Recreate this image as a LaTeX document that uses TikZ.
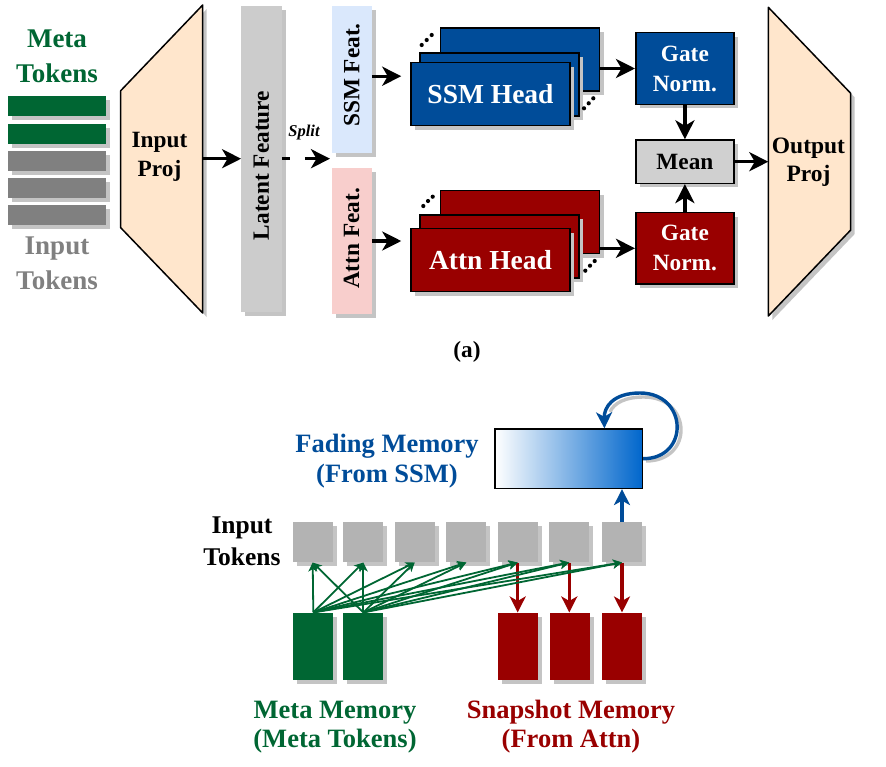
\documentclass[tikz,border=0pt]{standalone}
\usepackage{fontspec}
\setmainfont{Liberation Serif}
\usetikzlibrary{arrows.meta,shadows,calc}
\definecolor{peach}{HTML}{FFE6CC}
\definecolor{dblue}{HTML}{004C99}
\definecolor{dred}{HTML}{990000}
\definecolor{dgreen}{HTML}{006633}
\definecolor{barg}{HTML}{808080}
\definecolor{latg}{HTML}{CCCCCC}
\definecolor{ssmf}{HTML}{DAE8FC}
\definecolor{attf}{HTML}{F8CECC}
\definecolor{meang}{HTML}{D0D0D0}
\definecolor{tokg}{HTML}{B3B3B3}
\definecolor{shadc}{HTML}{C4C4C4}
\definecolor{fadeb}{HTML}{0066CC}
\begin{document}
\begin{tikzpicture}[x=1pt,y=-1pt,
  shd/.style={drop shadow={shadow xshift=4pt,shadow yshift=-4pt,fill=shadc,opacity=1}},
  blk/.style={rectangle,inner sep=0,shd},
  lbl/.style={font=\fontsize{23.3}{30}\selectfont\bfseries,align=center,inner sep=0},
  big/.style={font=\fontsize{26.5}{32}\selectfont\bfseries,align=center,inner sep=0},
  karrow/.style={line width=3.4pt,-{Stealth[length=19pt,width=19pt,inset=5.5pt]}},
  barrow/.style={line width=3.4pt,draw=dblue,-{Stealth[length=16pt,width=16pt,inset=4.5pt]}},
  rarrow/.style={line width=3.4pt,draw=dred,-{Stealth[length=16pt,width=16pt,inset=4.5pt]}},
  garrow/.style={line width=1.8pt,draw=dgreen,-{Stealth[length=9pt,width=9pt,inset=2.5pt]}},
  headbox/.style={rectangle,draw=black,line width=1.5pt,minimum width=159pt,minimum height=63pt,inner sep=0,shd},
  gatebox/.style={rectangle,draw=black,line width=1.5pt,minimum width=98.3pt,inner sep=0,shd}
]
\useasboundingbox (0,0) rectangle (886,766);

% ---------- (a) ----------
\node[blk,fill=dgreen,minimum width=98pt,minimum height=20pt] (bar1) at (57,105.5) {};
\node[blk,fill=dgreen,minimum width=98pt,minimum height=20pt] (bar2) at (57,134) {};
\node[blk,fill=barg,minimum width=98pt,minimum height=20pt] (bar3) at (57,161) {};
\node[blk,fill=barg,minimum width=98pt,minimum height=20pt] (bar4) at (57,188) {};
\node[blk,fill=barg,minimum width=98pt,minimum height=20pt] (bar5) at (57,214.5) {};
\node[big,text=dgreen,font=\fontsize{27}{35}\selectfont\bfseries] (metatok) at (57,56) {Meta\\Tokens};
\node[big,text=barg,font=\fontsize{27}{35}\selectfont\bfseries] (inptok) at (57,263) {Input\\Tokens};

% input proj trapezoid
\fill[shadc] (124.7,94.7) -- (206.7,9) -- (206.7,317) -- (124.7,231.7) -- cycle;
\draw[fill=peach,line width=1.5pt,line join=round] (120.7,90.7) -- (202.7,5) -- (202.7,313) -- (120.7,227.7) -- cycle;
\node[lbl,font=\fontsize{23.3}{29}\selectfont\bfseries] (inproj) at (159.5,157) {Input\\Proj};
\coordinate (inR) at (202.7,158.7);

% latent feature
\node[blk,fill=latg,minimum width=40.4pt,minimum height=306pt] (latent) at (261.5,158.7) {};
\node[lbl,rotate=90] (latenttxt) at (261.5,165.5) {Latent Feature};
\draw[karrow] (inR) -- (latent.west);

% split
\coordinate (splitend) at (330,158.7);
\draw[line width=3.4pt] (latent.east) -- ++(8,0);
\draw[karrow] ($(latent.east)+(23,0)$) -- (splitend);
\node[font=\fontsize{16.5}{18}\selectfont\bfseries\itshape,inner sep=0] (split) at (304,133) {Split};

% feat boxes
\node[blk,fill=ssmf,minimum width=40pt,minimum height=147pt] (ssmfeat) at (351.7,79.2) {};
\node[lbl,rotate=90] (ssmfeattxt) at (351.7,75) {SSM Feat.};
\node[blk,fill=attf,minimum width=40pt,minimum height=146.6pt] (attfeat) at (351.7,241) {};
\node[lbl,rotate=90] (attfeattxt) at (351.7,238.5) {Attn Feat.};

% SSM head stack
\node[headbox,fill=dblue] (ssmB) at (520,59.7) {};
\node[headbox,fill=dblue] (ssmM) at (499.5,84.3) {};
\node[headbox,fill=dblue,text=white,font=\fontsize{27.5}{30}\selectfont\bfseries] (ssmF) at (490.5,94.2) {SSM Head};
\foreach \p in {(421.7,45),(426.7,40),(431.7,35),(584,108.3),(588.7,103.3),(593.3,98.3)} \fill \p circle (2.1);

% Attn head stack
\node[headbox,fill=dred] (attB) at (520,222) {};
\node[headbox,fill=dred] (attM) at (499.5,246.7) {};
\node[headbox,fill=dred,text=white,font=\fontsize{27.5}{30}\selectfont\bfseries] (attF) at (490.5,260) {Attn Head};
\foreach \p in {(423.3,206),(428,201),(432.7,196.7),(585.3,270.7),(590,265.7),(594.7,261)} \fill \p circle (2.1);

\draw[karrow,shorten >=9pt] ($(ssmfeat.east)+(0,-3)$) -- ($(ssmfeat.east -| ssmF.west)+(0,-3)$);
\draw[karrow,shorten >=9pt] (attfeat.east) -- (attfeat.east -| attF.west);

% gate norms and mean
\node[gatebox,fill=dblue,minimum height=71.6pt,text=white,lbl] (gateS) at (684.9,68.5) {Gate\\Norm.};
\node[gatebox,fill=dred,minimum height=71.3pt,text=white,lbl] (gateA) at (684.9,248.3) {Gate\\Norm.};
\node[gatebox,fill=meang,minimum height=43.3pt,lbl] (mean) at (684.9,161.7) {Mean};

\draw[karrow] (ssmB.east |- gateS.west) -- (gateS.west);
\draw[karrow] (attB.east |- gateA.west) -- (gateA.west);
\draw[karrow] (gateS.south) -- (mean.north);
\draw[karrow] (gateA.north) -- (mean.south);

% output proj
\fill[shadc] (772.3,11.3) -- (854.7,97.3) -- (854.7,234) -- (772.3,320) -- cycle;
\draw[fill=peach,line width=1.5pt,line join=round] (768.3,7.3) -- (850.7,93.3) -- (850.7,230) -- (768.3,316) -- cycle;
\node[lbl,font=\fontsize{23.5}{28}\selectfont\bfseries] (outproj) at (808.5,162) {Output\\Proj};
\coordinate (outL) at (768.3,161.7);
\draw[karrow] (mean.east) -- (outL);

\node[lbl] (cap) at (467,352) {(a)};

% ---------- (b) ----------
\node[rectangle,draw=black,line width=1.5pt,left color=white,right color=fadeb,minimum width=147.3pt,minimum height=59.3pt,inner sep=0] (fade) at (568.7,458.7) {};
\coordinate (loopend) at ($(fade.north west)!0.74!(fade.north east)$);
\draw[shadc,line width=3.4pt] (646,461) .. controls (694,461) and (692,397) .. (644,397) .. controls (625,397) and (614,403) .. (610,412);
\draw[barrow] (fade.east) .. controls (690,458.7) and (688,393) .. (640,393) .. controls (612,393) and (604,408) .. (loopend);

\node[big] [text=dblue,font=\fontsize{26.5}{30}\selectfont\bfseries] (fadetxt) at (387,461) {Fading Memory\\(From SSM)};

\foreach \i/\x in {1/312.7,2/363.3,3/414.7,4/466.3,5/517.7,6/569.3,7/622}
  \node[blk,fill=tokg,minimum width=40pt,minimum height=40pt] (t\i) at (\x,542.3) {};
\node[big,font=\fontsize{25.5}{32}\selectfont\bfseries] (inptok2) at (242,541) {Input\\Tokens};

\node[blk,fill=dgreen,minimum width=40pt,minimum height=67.3pt] (m1) at (313.3,646.3) {};
\node[blk,fill=dgreen,minimum width=40pt,minimum height=67.3pt] (m2) at (363.3,646.3) {};
\node[blk,fill=dred,minimum width=40pt,minimum height=67.3pt] (s1) at (518.3,646.3) {};
\node[blk,fill=dred,minimum width=40pt,minimum height=67.3pt] (s2) at (569.7,646.3) {};
\node[blk,fill=dred,minimum width=40pt,minimum height=67.3pt] (s3) at (622.3,646.3) {};

\draw[barrow] (t7.north) -- (t7.north |- fade.south);
\draw[rarrow] (t5.south) -- (t5.south |- s1.north);
\draw[rarrow] (t6.south) -- (t6.south |- s2.north);
\draw[rarrow] (t7.south) -- (t7.south |- s3.north);
\foreach \m in {m1,m2}
  \foreach \i in {1,...,7}
    \draw[garrow] (\m.north) -- (t\i.south);

\node[big,text=dgreen,font=\fontsize{26.5}{29}\selectfont\bfseries] (metamem) at (335,727) {Meta Memory\\(Meta Tokens)};
\node[big,text=dred,font=\fontsize{26.5}{29}\selectfont\bfseries] (snapmem) at (571,727) {Snapshot Memory\\(From Attn)};
\end{tikzpicture}
\end{document}
